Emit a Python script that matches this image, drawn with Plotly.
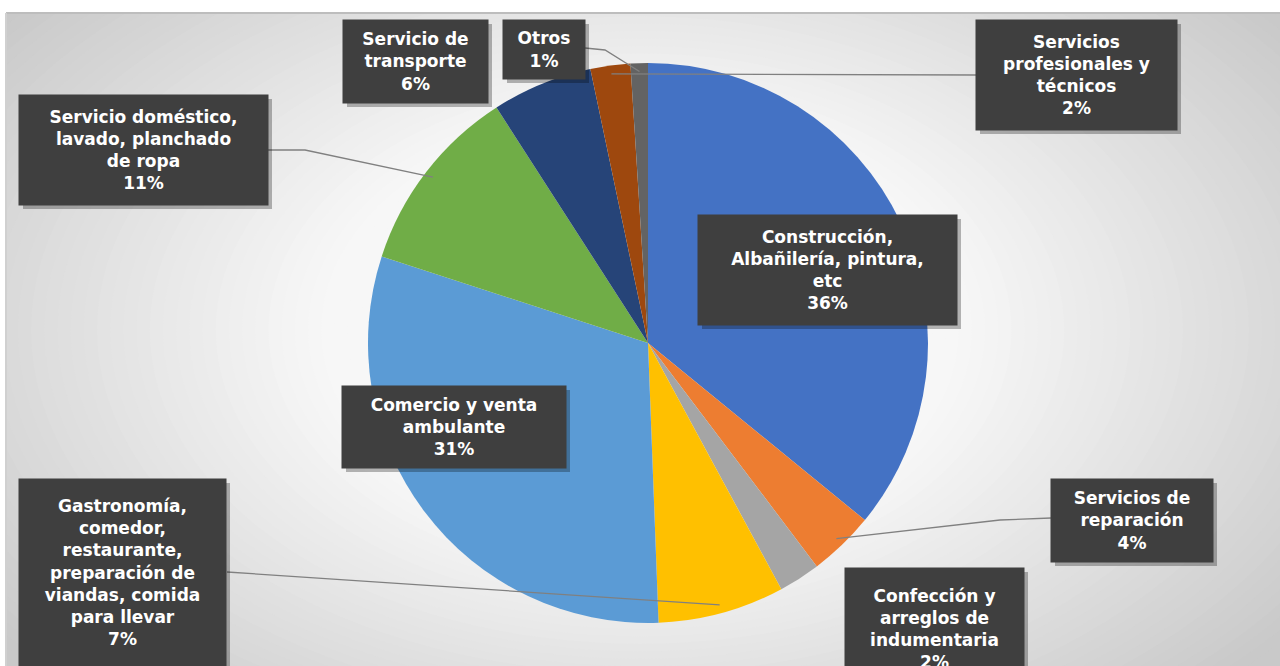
import math
import plotly.graph_objects as go

# ---------------- data ----------------
categories = [
    "Construcción, Albañilería, pintura, etc",
    "Servicios de reparación",
    "Confección y arreglos de indumentaria",
    "Gastronomía, comedor, restaurante, preparación de viandas, comida para llevar",
    "Comercio y venta ambulante",
    "Servicio doméstico, lavado, planchado de ropa",
    "Servicio de transporte",
    "Servicios profesionales y técnicos",
    "Otros",
]
values = [35.9, 3.8, 2.4, 7.3, 30.6, 10.9, 5.8, 2.3, 1.0]
colors = ["#4472C4", "#ED7D31", "#A5A5A5", "#FFC000", "#5B9BD5",
          "#70AD47", "#264478", "#9E480E", "#636363"]
label_lines = [
    ["Construcción,", "Albañilería, pintura,", "etc"],
    ["Servicios de", "reparación"],
    ["Confección y", "arreglos de", "indumentaria"],
    ["Gastronomía,", "comedor,", "restaurante,", "preparación de", "viandas, comida", "para llevar"],
    ["Comercio y venta", "ambulante"],
    ["Servicio doméstico,", "lavado, planchado", "de ropa"],
    ["Servicio de", "transporte"],
    ["Servicios", "profesionales y", "técnicos"],
    ["Otros"],
]

# ---------------- layout geometry (pixels) ----------------
W, H = 1280, 666
CX, CY, R = 648, 343, 280

boxes = [
    (698, 215, 957, 325),
    (1051, 479, 1213, 562),
    (845, 568, 1024, 690),
    (19, 479, 226, 666),
    (342, 386, 566, 468),
    (19, 95, 268, 205),
    (343, 20, 488, 103),
    (976, 20, 1177, 130),
    (503, 20, 585, 79),
]
# leader line starting points (box side, optional elbow); None = no leader
leaders = [
    None,
    [(1051, 518), (1000, 520)],
    None,
    [(227, 572)],
    None,
    [(268, 150), (305, 150)],
    None,
    [(976, 75)],
    [(585, 48), (605, 50)],
]


def px(x):
    return x / W


def py(y):
    return 1 - y / H


total = sum(values)
percents = [round(v / total * 100) for v in values]

fig = go.Figure()
fig.add_trace(go.Pie(
    labels=categories,
    values=values,
    marker=dict(colors=colors, line=dict(width=0)),
    sort=False,
    direction="clockwise",
    rotation=0,
    textinfo="none",
    hoverinfo="label+percent",
    showlegend=False,
    domain=dict(x=[px(CX - R), px(CX + R)], y=[py(CY + R), py(CY - R)]),
))

shapes = []
# background base
shapes.append(dict(type="rect", xref="paper", yref="paper", x0=px(6), x1=1, y0=0, y1=py(12),
                   fillcolor="#C9C9C9", line=dict(width=0), layer="below"))
# radial gradient via many concentric ellipses
n = 48
c0 = (0xC9, 0xC9, 0xC9)
c1 = (0xF7, 0xF7, 0xF7)
for i in range(n):
    t = i / (n - 1)
    rx = 820 * (1 - t) + 200 * t
    ry = 500 * (1 - t) + 150 * t
    tt = min(1.0, t * 1.25)
    col = tuple(int(round(c0[k] + (c1[k] - c0[k]) * tt)) for k in range(3))
    shapes.append(dict(type="circle", xref="paper", yref="paper",
                       x0=px(640 - rx), x1=px(640 + rx), y0=py(330 + ry), y1=py(330 - ry),
                       fillcolor="rgb(%d,%d,%d)" % col, line=dict(width=0), layer="below"))
# white margins + border
shapes.append(dict(type="rect", xref="paper", yref="paper", x0=0, x1=1, y0=py(12), y1=1,
                   fillcolor="white", line=dict(width=0), layer="below"))
shapes.append(dict(type="rect", xref="paper", yref="paper", x0=0, x1=px(6), y0=0, y1=1,
                   fillcolor="white", line=dict(width=0), layer="below"))
shapes.append(dict(type="line", xref="paper", yref="paper", x0=px(6), x1=1, y0=py(13), y1=py(13),
                   line=dict(color="#BDBDBD", width=2), layer="below"))
shapes.append(dict(type="line", xref="paper", yref="paper", x0=px(6), x1=px(6), y0=0, y1=py(13),
                   line=dict(color="#D0D0D0", width=2), layer="below"))

# leader lines computed from slice mid-angles
cum = 0.0
for i, v in enumerate(values):
    mid = (cum + v / 2) / total
    cum += v
    if leaders[i] is None:
        continue
    ang = 2 * math.pi * mid
    ex = CX + R * 0.97 * math.sin(ang)
    ey = CY - R * 0.97 * math.cos(ang)
    pts = leaders[i] + [(ex, ey)]
    path = "M " + " L ".join("%f,%f" % (px(x), py(y)) for x, y in pts)
    shapes.append(dict(type="path", xref="paper", yref="paper", path=path,
                       line=dict(color="#808080", width=1.3), layer="above"))

# box shadows
for (x0, y0, x1, y1) in boxes:
    shapes.append(dict(type="rect", xref="paper", yref="paper",
                       x0=px(x0 + 4), x1=px(x1 + 4), y0=py(y1 + 4), y1=py(y0 + 4),
                       fillcolor="rgba(0,0,0,0.28)", line=dict(width=0), layer="above"))

annotations = []
for i, (x0, y0, x1, y1) in enumerate(boxes):
    text = "<br>".join(label_lines[i] + ["%d%%" % percents[i]])
    annotations.append(dict(
        x=px((x0 + x1) / 2), y=py((y0 + y1) / 2), xref="paper", yref="paper",
        xanchor="center", yanchor="middle",
        width=x1 - x0, height=y1 - y0, borderpad=0,
        text=text, showarrow=False, align="center", valign="middle",
        bgcolor="#3F3F3F",
        font=dict(family="DejaVu Sans", size=17, color="white", weight="bold"),
    ))

fig.update_layout(
    width=W, height=H,
    margin=dict(l=0, r=0, t=0, b=0),
    paper_bgcolor="white",
    plot_bgcolor="white",
    shapes=shapes,
    annotations=annotations,
    showlegend=False,
)

fig.write_html("out.html", config={"displayModeBar": False},
               post_script="document.body.style.margin='0';")
